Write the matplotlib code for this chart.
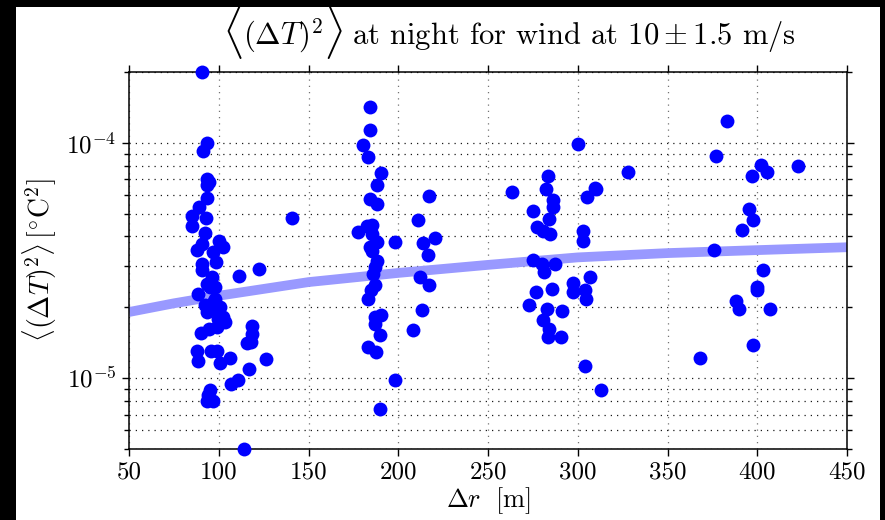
import matplotlib
matplotlib.use("Agg")
import matplotlib.pyplot as plt
from matplotlib.patches import Rectangle
from matplotlib.ticker import FixedLocator, LogLocator, NullFormatter

plt.rcParams['font.family'] = 'serif'
plt.rcParams['font.serif'] = ['cmr10', 'DejaVu Serif']
plt.rcParams['mathtext.fontset'] = 'cm'
plt.rcParams['axes.formatter.use_mathtext'] = True
plt.rcParams['axes.unicode_minus'] = False

# ---- data ----
dr = [90.5, 93.3, 91.0, 93.6, 94.5, 93.6, 93.6, 89.2, 84.9, 92.9, 85.1, 92.3, 100.1, 90.5,
      102.5, 88.0, 97.0, 98.3, 90.5, 90.5, 111.5, 122.4, 96.1, 93.6, 97.9, 88.6, 97.9, 92.3,
      96.1, 93.6, 102.5, 103.4, 98.8, 94.7, 89.9, 118.4, 118.7, 115.6, 117.8, 95.5, 99.2,
      88.0, 106.2, 126.3, 88.6, 100.7, 116.7, 110.6, 106.8, 95.1, 94.2, 93.6, 96.6, 114.0,
      140.6, 95.1, 97.5, 94.2, 100.7, 99.7,
      184.3, 184.3, 180.5, 183.0, 190.2, 188.3, 184.3, 188.3, 217.3, 211.2, 185.2, 182.4,
      177.7, 185.2, 188.0, 198.2, 220.5, 214.0, 184.3, 216.7, 185.2, 188.0, 187.0, 186.1,
      212.1, 217.3, 187.0, 185.0, 183.3, 190.4, 187.0, 187.0, 189.8, 213.0, 208.0, 183.0,
      187.6, 198.2, 189.8,
      300.3, 263.2, 283.6, 282.3, 286.0, 286.0, 274.9, 284.0, 305.0, 310.0, 277.1, 280.8,
      284.5, 303.0, 303.0, 274.9, 279.9, 287.3, 281.2, 306.8, 297.5, 297.5, 304.0, 304.4,
      285.4, 276.7, 273.0, 282.7, 291.0, 280.6, 284.2, 283.6, 290.5, 304.0, 312.8, 328.2,
      309.6,
      383.3, 376.8, 402.1, 405.6, 422.5, 396.9, 395.2, 397.8, 391.5, 376.1, 403.3, 399.6,
      399.6, 388.2, 389.6, 407.1, 397.8, 367.9]
dT2 = [2.0e-4, 1.0e-4, 9.2e-5, 7.03e-5, 6.8e-5, 6.6e-5, 5.82e-5, 5.32e-5, 4.91e-5, 4.79e-5,
       4.43e-5, 4.15e-5, 3.81e-5, 3.72e-5, 3.60e-5, 3.49e-5, 3.43e-5, 3.11e-5, 3.06e-5,
       2.87e-5, 2.73e-5, 2.92e-5, 2.69e-5, 2.52e-5, 2.44e-5, 2.28e-5, 2.17e-5, 2.04e-5,
       1.97e-5, 1.91e-5, 1.82e-5, 1.73e-5, 1.65e-5, 1.62e-5, 1.55e-5, 1.66e-5, 1.535e-5,
       1.41e-5, 1.42e-5, 1.31e-5, 1.31e-5, 1.30e-5, 1.22e-5, 1.21e-5, 1.18e-5, 1.16e-5,
       1.09e-5, 9.78e-6, 9.4e-6, 8.93e-6, 8.45e-6, 7.98e-6, 7.98e-6, 5.0e-6,
       4.79e-5, 2.44e-5, 2.12e-5, 2.0e-5, 2.0e-5, 1.79e-5,
       1.42e-4, 1.13e-4, 9.8e-5, 8.69e-5, 7.46e-5, 6.65e-5, 5.78e-5, 5.5e-5, 5.97e-5,
       4.68e-5, 4.48e-5, 4.42e-5, 4.17e-5, 4.1e-5, 3.78e-5, 3.78e-5, 3.95e-5, 3.74e-5,
       3.60e-5, 3.34e-5, 3.46e-5, 3.16e-5, 2.96e-5, 2.78e-5, 2.70e-5, 2.50e-5, 2.48e-5,
       2.36e-5, 2.16e-5, 1.85e-5, 1.82e-5, 1.70e-5, 1.53e-5, 1.94e-5, 1.60e-5, 1.35e-5,
       1.29e-5, 9.78e-6, 7.36e-6,
       9.87e-5, 6.21e-5, 7.26e-5, 6.38e-5, 5.69e-5, 5.32e-5, 5.12e-5, 4.75e-5, 5.88e-5,
       6.38e-5, 4.38e-5, 4.23e-5, 4.1e-5, 4.23e-5, 3.82e-5, 3.19e-5, 3.06e-5, 3.06e-5,
       2.82e-5, 2.70e-5, 2.54e-5, 2.32e-5, 2.36e-5, 2.16e-5, 2.40e-5, 2.33e-5, 2.04e-5,
       1.97e-5, 1.93e-5, 1.77e-5, 1.62e-5, 1.49e-5, 1.49e-5, 1.13e-5, 8.93e-6, 7.55e-5,
       6.42e-5,
       1.235e-4, 8.75e-5, 8.09e-5, 7.55e-5, 7.98e-5, 7.21e-5, 5.24e-5, 4.71e-5, 4.27e-5,
       3.49e-5, 2.89e-5, 2.44e-5, 2.37e-5, 2.12e-5, 1.97e-5, 1.97e-5, 1.39e-5, 1.22e-5]

fit_r = [50, 75, 100, 150, 200, 250, 300, 350, 400, 450]
fit_v = [1.91e-5, 2.08e-5, 2.24e-5, 2.56e-5, 2.80e-5, 3.03e-5, 3.26e-5, 3.40e-5, 3.50e-5, 3.60e-5]

x_ticks = [50, 100, 150, 200, 250, 300, 350, 400, 450]
x_ticklabels = ['50', '100', '150', '200', '250', '300', '350', '400', '450']

# title pieces: big bracket, quantity, big bracket, rest
title_parts = [r'$\langle$', r'$(\Delta T)^{2}$', r'$\rangle$',
               r' at night for wind at $10\pm1.5$ m/s']
title_sizes = [34, 22, 34, 22]
xlabel = r'$\Delta r\ \ [\mathrm{m}]$'
ylabel = r'$\langle(\Delta T)^2\rangle\,[^{\circ}\mathrm{C}^2]$'

# ---- figure ----
W, H = 885, 520
fig = plt.figure(figsize=(W / 100, H / 100), dpi=100, facecolor='black')
fig.patches.append(Rectangle((16 / W, 0), (880 - 16) / W, (H - 7) / H,
                             transform=fig.transFigure, facecolor='white',
                             edgecolor='none', zorder=-10))
ax = fig.add_axes([129 / W, 1 - 449 / H, (847 - 129) / W, (449 - 72) / H])

ax.plot(fit_r, fit_v, color='#9999ff', lw=7, solid_capstyle='butt', zorder=2)
ax.plot(dr, dT2, 'o', color='#0000ff', ms=10, mec='#0000ff', mew=0, clip_on=False, zorder=3)

ax.set_yscale('log')
ax.set_xlim(50, 450)
ax.set_ylim(5e-6, 2e-4)
ax.xaxis.set_major_locator(FixedLocator(x_ticks))
ax.set_xticklabels(x_ticklabels)
ax.yaxis.set_major_locator(LogLocator(base=10, numticks=10))
ax.yaxis.set_minor_locator(LogLocator(base=10, subs=range(2, 10), numticks=10))
ax.yaxis.set_minor_formatter(NullFormatter())

dots = (0, (1, 4))
ax.grid(True, which='major', axis='x', ls=dots, color='0.45', lw=0.9)
ax.grid(True, which='both', axis='y', ls=dots, color='0.1', lw=0.9)
ax.set_axisbelow(True)

ax.tick_params(which='both', direction='out', top=True, right=True, width=1.0, pad=4)
ax.tick_params(axis='x', labelsize=18)
ax.tick_params(axis='y', labelsize=18)
ax.tick_params(which='major', length=5)
ax.tick_params(which='minor', length=3.5)
for s in ax.spines.values():
    s.set_linewidth(1.1)

ax.set_xlabel(xlabel, fontsize=19, labelpad=1)
ax.set_ylabel(ylabel, fontsize=20, labelpad=5)

# title assembled piece by piece so the angle brackets can be tall
fig.canvas.draw()
renderer = fig.canvas.get_renderer()
x_px = 222.0
base_px = 44.0
for part, size in zip(title_parts, title_sizes):
    off = 5.0 if size > 25 else 0.0
    t = fig.text(x_px / W, 1 - (base_px + off) / H, part, fontsize=size,
                 ha='left', va='baseline')
    bb = t.get_window_extent(renderer)
    x_px += bb.width

fig.savefig('out.png', dpi=100, facecolor=fig.get_facecolor())
